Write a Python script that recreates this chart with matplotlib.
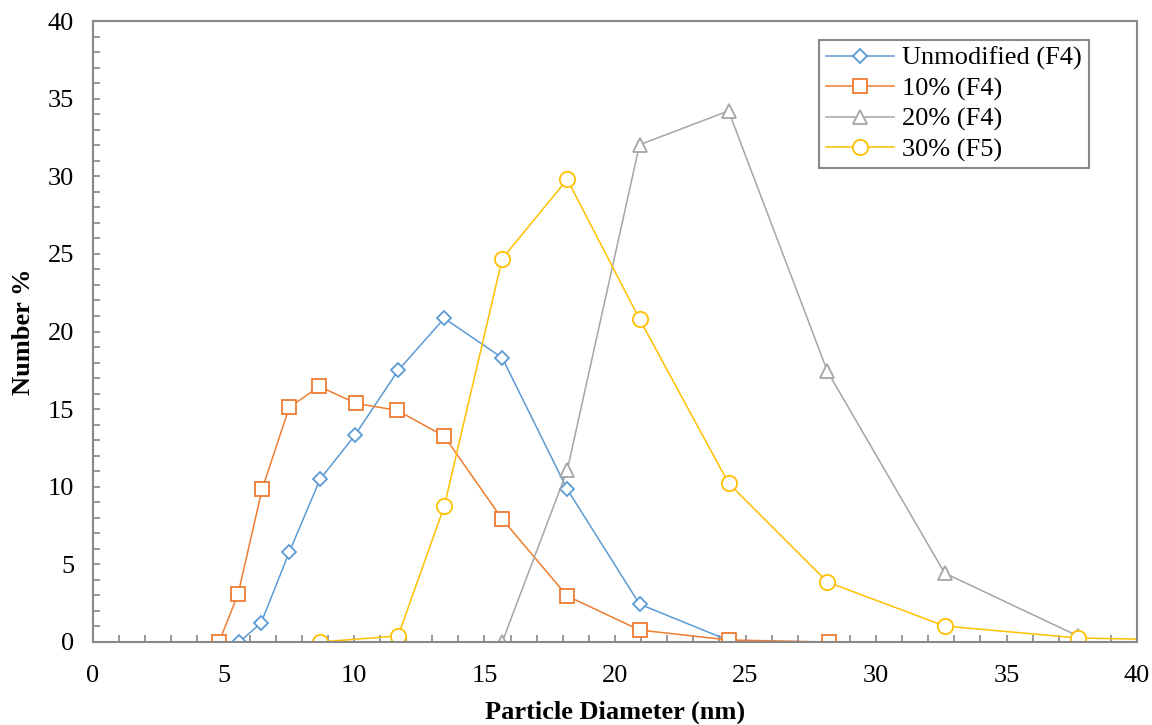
import matplotlib
matplotlib.use('Agg')
import matplotlib.pyplot as plt
from matplotlib.ticker import MultipleLocator

plt.rcParams['font.family'] = 'Liberation Serif'
plt.rcParams['font.size'] = 19

# particle size distributions (number %)
d_unmod = [5.6, 6.44, 7.52, 8.70, 10.05, 11.69, 13.46, 15.68, 18.17, 20.94, 24.35]
n_unmod = [0.0, 1.22, 5.79, 10.48, 13.35, 17.49, 20.85, 18.3, 9.84, 2.44, 0.1]

d_10 = [4.83, 5.56, 6.48, 7.52, 8.67, 10.08, 11.66, 13.46, 15.68, 18.17, 20.94, 24.35, 28.18]
n_10 = [0.0, 3.09, 9.84, 15.11, 16.46, 15.37, 14.92, 13.25, 7.91, 2.96, 0.77, 0.13, 0.0]

d_20 = [15.68, 18.17, 20.94, 24.35, 28.14, 32.63, 37.73]
n_20 = [0.0, 11.06, 32.03, 34.21, 17.43, 4.44, 0.39]

d_30 = [8.70, 11.69, 13.46, 15.68, 18.17, 20.94, 24.35, 28.14, 32.63, 37.73, 43.8]
n_30 = [0.0, 0.39, 8.75, 24.69, 29.8, 20.8, 10.23, 3.86, 1.03, 0.26, 0.05]

labels = ['Unmodified (F4)', '10% (F4)', '20% (F4)', '30% (F5)']

fig = plt.figure(figsize=(11.52, 7.25), dpi=100)
ax = fig.add_axes([0.0807, 0.1145, 0.9063, 0.8565])

ax.plot(d_unmod, n_unmod, color='#5B9BD5', lw=1.1, marker='D', ms=7,
        mfc='white', mec='#5B9BD5', mew=1.3, label=labels[0])
ax.plot(d_10, n_10, color='#ED7D31', lw=1.1, marker='s', ms=10,
        mfc='white', mec='#ED7D31', mew=1.3, label=labels[1])
ax.plot(d_20, n_20, color='#A5A5A5', lw=1.1, marker='^', ms=10,
        mfc='white', mec='#A5A5A5', mew=1.3, label=labels[2])
ax.plot(d_30, n_30, color='#FFC000', lw=1.1, marker='o', ms=11,
        mfc='white', mec='#FFC000', mew=1.3, label=labels[3])

ax.set_xlim(0, 40)
ax.set_ylim(0, 40)
ax.xaxis.set_major_locator(MultipleLocator(5))
ax.yaxis.set_major_locator(MultipleLocator(5))
ax.xaxis.set_minor_locator(MultipleLocator(1))
ax.yaxis.set_minor_locator(MultipleLocator(1))
ax.tick_params(which='both', direction='in', length=5, width=1.2, color='#888888',
               labelsize=19)
ax.tick_params(axis='x', which='both', pad=16.5)
ax.tick_params(axis='y', which='both', pad=13.5)

for s in ax.spines.values():
    s.set_color('#888888')
    s.set_linewidth(1.5)

ax.set_xlabel('Particle Diameter (nm)', fontweight='bold', fontsize=19, labelpad=10)
ax.set_ylabel('Number %', fontweight='bold', fontsize=19, labelpad=9)

leg = ax.legend(loc='upper right', bbox_to_anchor=(0.945, 0.945),
                bbox_transform=fig.transFigure, fancybox=False, framealpha=1,
                edgecolor='#888888', fontsize=19, borderaxespad=0,
                handlelength=2.6, handletextpad=0.3, labelspacing=0.25,
                borderpad=0.25)
leg.get_frame().set_linewidth(1.5)

fig.savefig('out.png', dpi=100)
